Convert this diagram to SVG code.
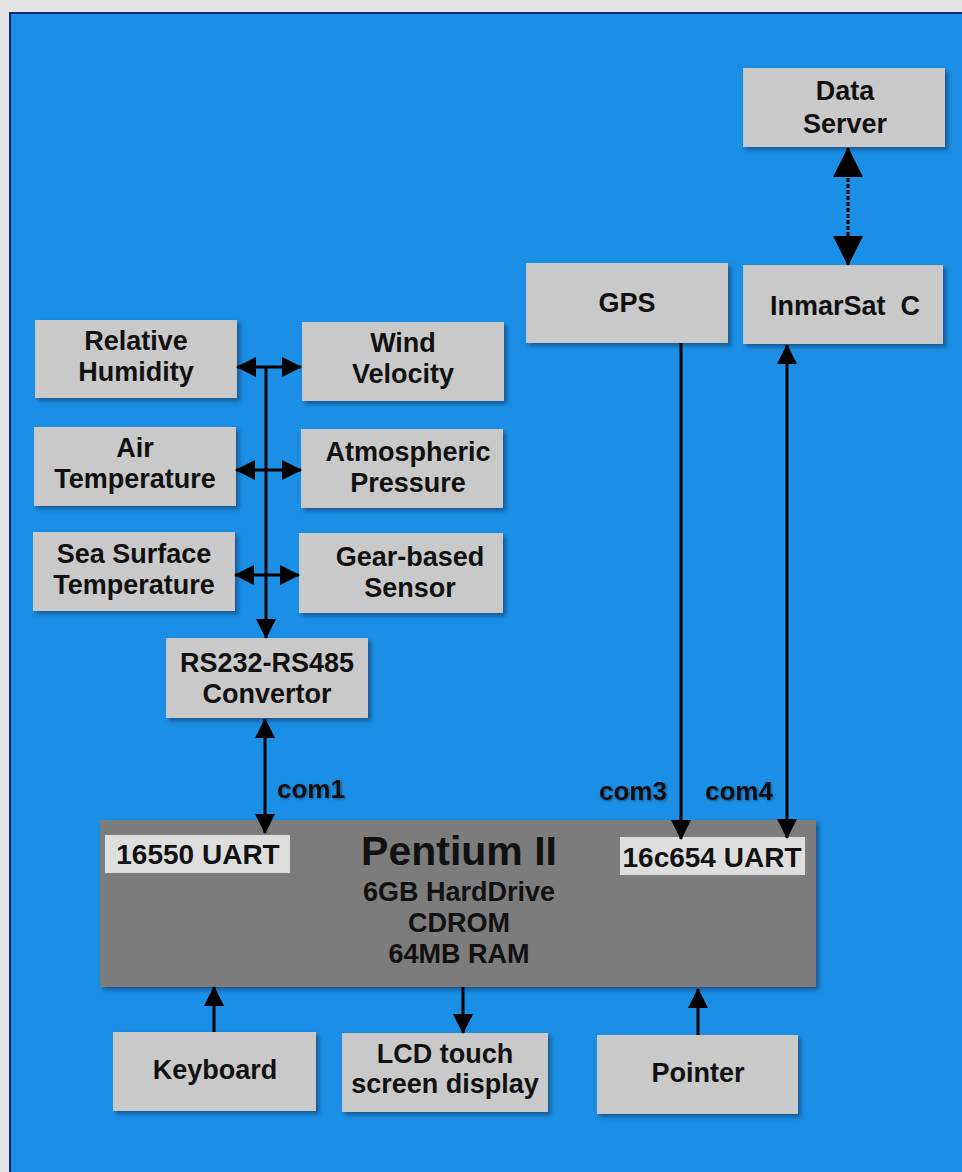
<svg xmlns="http://www.w3.org/2000/svg" width="962" height="1172" viewBox="0 0 962 1172">
<defs>
<style>
.bx{fill:#c9c9c9;filter:url(#sh)}
.t{font-family:"Liberation Sans",Arial,sans-serif;font-weight:bold;font-size:27px;fill:#111;text-anchor:middle}
.lab{font-family:"Liberation Sans",Arial,sans-serif;font-weight:bold;font-size:26px;fill:#111;filter:url(#tsh)}
.c{stroke:#000;stroke-width:3;fill:none}
</style>
<filter id="sh" x="-10%" y="-10%" width="125%" height="130%">
<feDropShadow dx="3" dy="3" stdDeviation="2" flood-color="#0b3560" flood-opacity="0.6"/>
</filter>
<filter id="tsh" x="-10%" y="-20%" width="130%" height="150%">
<feDropShadow dx="1" dy="1" stdDeviation="1" flood-color="#0b2a4a" flood-opacity="0.6"/>
</filter>
<marker id="ah" viewBox="0 0 20 20" refX="19" refY="10" markerWidth="20" markerHeight="20" markerUnits="userSpaceOnUse" orient="auto-start-reverse">
<path d="M0,0 L20,10 L0,20 z" fill="#000"/>
</marker>
<marker id="ahL" viewBox="0 0 30 30" refX="29" refY="15" markerWidth="30" markerHeight="30" markerUnits="userSpaceOnUse" orient="auto-start-reverse">
<path d="M0,0 L30,15 L0,30 z" fill="#000"/>
</marker>
</defs>
<rect x="0" y="0" width="962" height="1172" fill="#e4e4e4"/>
<rect x="10" y="13" width="960" height="1170" fill="#1b8fe5" stroke="#0a2a7a" stroke-width="2"/>

<g id="data-server">
<rect class="bx" x="743" y="68" width="202" height="79"/>
<text class="t" x="845" y="100">Data</text>
<text class="t" x="845" y="133">Server</text>
</g>
<g id="inmarsat">
<rect class="bx" x="743" y="265" width="200" height="79"/>
<text class="t" x="845" y="315" xml:space="preserve">InmarSat  C</text>
</g>
<g id="gps">
<rect class="bx" x="526" y="263" width="202" height="80"/>
<text class="t" x="627" y="312">GPS</text>
</g>
<g id="relative-humidity">
<rect class="bx" x="35" y="320" width="202" height="78"/>
<text class="t" x="136" y="350">Relative</text>
<text class="t" x="136" y="381">Humidity</text>
</g>
<g id="wind-velocity">
<rect class="bx" x="302" y="322" width="202" height="79"/>
<text class="t" x="403" y="352">Wind</text>
<text class="t" x="403" y="383">Velocity</text>
</g>
<g id="air-temperature">
<rect class="bx" x="34" y="427" width="202" height="79"/>
<text class="t" x="135" y="457">Air</text>
<text class="t" x="135" y="488">Temperature</text>
</g>
<g id="atmospheric-pressure">
<rect class="bx" x="301" y="429" width="202" height="79"/>
<text class="t" x="408" y="461">Atmospheric</text>
<text class="t" x="408" y="492">Pressure</text>
</g>
<g id="sea-surface-temperature">
<rect class="bx" x="33" y="532" width="202" height="79"/>
<text class="t" x="134" y="563">Sea Surface</text>
<text class="t" x="134" y="594">Temperature</text>
</g>
<g id="gear-based-sensor">
<rect class="bx" x="299" y="533" width="204" height="80"/>
<text class="t" x="410" y="566">Gear-based</text>
<text class="t" x="410" y="597">Sensor</text>
</g>
<g id="convertor">
<rect class="bx" x="166" y="638" width="202" height="80"/>
<text class="t" x="267" y="672">RS232-RS485</text>
<text class="t" x="267" y="703">Convertor</text>
</g>
<g id="pentium">
<rect x="100" y="820" width="716" height="167" fill="#7b7b7b" filter="url(#sh)"/>
<rect x="105" y="835" width="185" height="38" fill="#dedede"/>
<text class="t" x="198" y="864" style="font-size:28px">16550 UART</text>
<rect x="620" y="837" width="185" height="38" fill="#dedede"/>
<text class="t" x="712" y="867" style="font-size:28px">16c654 UART</text>
<text class="t" x="459" y="865" style="font-size:41px">Pentium II</text>
<text class="t" x="459" y="901">6GB HardDrive</text>
<text class="t" x="459" y="932">CDROM</text>
<text class="t" x="459" y="963">64MB RAM</text>
</g>
<g id="keyboard">
<rect class="bx" x="113" y="1032" width="203" height="79"/>
<text class="t" x="215" y="1079">Keyboard</text>
</g>
<g id="lcd">
<rect class="bx" x="342" y="1033" width="206" height="79"/>
<text class="t" x="445" y="1063">LCD touch</text>
<text class="t" x="445" y="1093">screen display</text>
</g>
<g id="pointer">
<rect class="bx" x="597" y="1035" width="201" height="79"/>
<text class="t" x="698" y="1082">Pointer</text>
</g>

<g id="connectors">
<line class="c" x1="848" y1="148" x2="848" y2="265" stroke-width="5" stroke-dasharray="4 2" marker-start="url(#ahL)" marker-end="url(#ahL)"/>
<line class="c" x1="681" y1="343" x2="681" y2="839" marker-end="url(#ah)"/>
<line class="c" x1="787" y1="345" x2="787" y2="838" marker-start="url(#ah)" marker-end="url(#ah)"/>
<line class="c" x1="266" y1="367" x2="266" y2="638" marker-end="url(#ah)"/>
<line class="c" x1="237" y1="367" x2="301" y2="367" marker-start="url(#ah)" marker-end="url(#ah)"/>
<line class="c" x1="236" y1="470" x2="301" y2="470" marker-start="url(#ah)" marker-end="url(#ah)"/>
<line class="c" x1="235" y1="575" x2="299" y2="575" marker-start="url(#ah)" marker-end="url(#ah)"/>
<line class="c" x1="265" y1="719" x2="265" y2="833" marker-start="url(#ah)" marker-end="url(#ah)"/>
<line class="c" x1="214" y1="1032" x2="214" y2="987" marker-end="url(#ah)"/>
<line class="c" x1="463" y1="987" x2="463" y2="1033" marker-end="url(#ah)"/>
<line class="c" x1="698" y1="1035" x2="698" y2="989" marker-end="url(#ah)"/>
<text class="lab" x="277" y="798">com1</text>
<text class="lab" x="599" y="800">com3</text>
<text class="lab" x="705" y="800">com4</text>
</g>
</svg>
